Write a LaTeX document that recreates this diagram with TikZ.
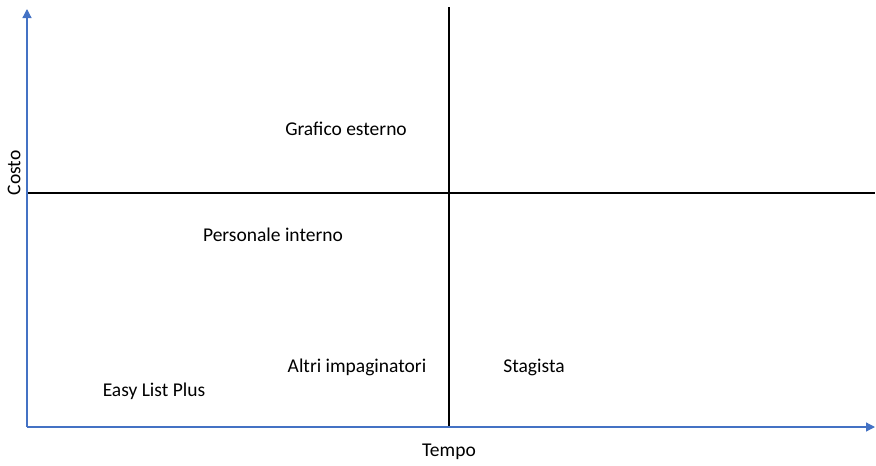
\documentclass[tikz,border=0pt]{standalone}
\usepackage{fontspec}
\setmainfont{Carlito}
\usetikzlibrary{arrows.meta}
\definecolor{axisblue}{HTML}{4472C4}
\tikzset{
  axis/.style={draw=axisblue, line width=1.2pt, -{Triangle[length=9pt,width=9pt]}},
  quad/.style={draw=black, line width=1.5pt},
  lbl/.style={font=\fontsize{19.5}{22}\selectfont, inner sep=0pt}
}
\begin{document}
\begin{tikzpicture}[x=1pt,y=-1pt]
\useasboundingbox (0,0) rectangle (876,466);
\coordinate (O) at (27,427);
\coordinate (ytip) at (27,9);
\coordinate (xtip) at (875,427);
\coordinate (vtop) at (449,7);
\coordinate (vbot) at (449,428);
\coordinate (hl) at (27,193);
\coordinate (hr) at (875,193);
\draw[quad] (vtop) -- (vbot);
\draw[quad] (hl) -- (hr);
\draw[axis] (O) -- (ytip);
\draw[axis] (O) -- (xtip);
\node[lbl] (g) at (346,129) {Grafico esterno};
\node[lbl] (p) at (273,235) {Personale interno};
\node[lbl] (a) at (357,367) {Altri impaginatori};
\node[lbl] (s) at (534,367) {Stagista};
\node[lbl] (e) at (154,391) {Easy List Plus};
\node[lbl] (t) at (449,452) {Tempo};
\node[lbl, rotate=90] (c) at (14,173) {Costo};
\end{tikzpicture}
\end{document}
